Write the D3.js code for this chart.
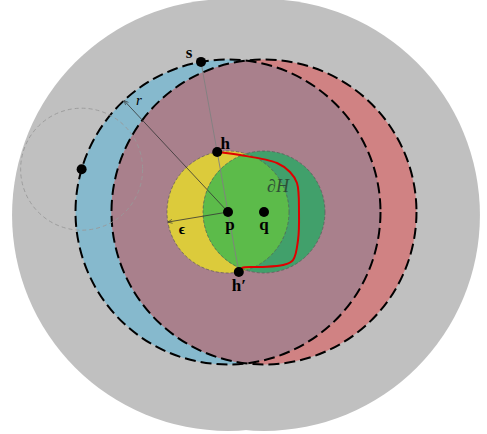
<!DOCTYPE html>
<html>
<head>
<meta charset="utf-8">
<script src="https://cdn.jsdelivr.net/npm/d3@7"></script>
<style>
  html, body { margin: 0; padding: 0; background: #ffffff; }
  svg { display: block; }
  text { font-family: "Liberation Serif", "DejaVu Serif", serif; }
</style>
</head>
<body>
<div id="chart"></div>
<script>
// Geometry in units of epsilon (the radius of the small disks around p and q).
const centerNames = ["p", "q"];
const centerX = [0, 0.59];
const centerY = [0, 0];
const epsilon = 1.0;          // small disk radius
const bigRadius = 2.5;        // radius r + epsilon of the dashed disks
const probeRadius = 1.0;      // radius of the probing circle on the boundary
const haloRadius = 3.54;      // outer grey region around both dashed disks
const haloShiftY = -0.05;

// Directions (degrees) of the construction lines from p
const sAngle = 100.2;         // ray p -> s, also fixes h and h'
const probeAngle = 163.7;     // centre of the probing circle
const rArrowAngle = 133;
const epsArrowAngle = 189.5;

// Boundary curve dH from h to h'
const boundaryX = [-0.18, 0.197, 0.803, 1.016, 1.131, 1.164, 1.148, 1.066, 0.902, 0.525, 0.23, 0.18];
const boundaryY = [0.984, 0.934, 0.803, 0.656, 0.475, -0.016, -0.459, -0.787, -0.869, -0.902, -0.918, -0.984];

const W = 487, H = 434;
const x = d3.scaleLinear().domain([0, 1]).range([228, 289]);
const y = d3.scaleLinear().domain([0, 1]).range([212, 151]);
const k = x(1) - x(0);

const svg = d3.select("#chart").append("svg").attr("width", W).attr("height", H);
const defs = svg.append("defs");

const polar = (cx, cy, rad, deg) => [cx + rad * Math.cos(deg * Math.PI / 180), cy + rad * Math.sin(deg * Math.PI / 180)];

const P = [centerX[0], centerY[0]];
const Q = [centerX[1], centerY[1]];
const S = polar(P[0], P[1], bigRadius, sAngle);
const Hp = polar(P[0], P[1], epsilon, sAngle);
const Hq = polar(P[0], P[1], -epsilon, sAngle);
const probe = polar(P[0], P[1], bigRadius, probeAngle);
const rTip = polar(P[0], P[1], bigRadius, rArrowAngle);
const eTip = polar(P[0], P[1], epsilon, epsArrowAngle);

// Clip paths for the overlaps
defs.append("clipPath").attr("id", "clipBigQ")
  .append("circle").attr("cx", x(Q[0])).attr("cy", y(Q[1])).attr("r", bigRadius * k);
defs.append("clipPath").attr("id", "clipSmallQ")
  .append("circle").attr("cx", x(Q[0])).attr("cy", y(Q[1])).attr("r", epsilon * k);

// Arrow marker
defs.append("marker").attr("id", "arrow")
  .attr("viewBox", "0 0 10 10").attr("refX", 9).attr("refY", 5)
  .attr("markerWidth", 7).attr("markerHeight", 7).attr("orient", "auto")
  .append("path").attr("d", "M1,1.5 L9,5 L1,8.5").attr("fill", "none")
  .attr("stroke", "#333").attr("stroke-width", 1.1);

// Outer grey region
svg.append("g").selectAll("circle").data(centerNames).join("circle")
  .attr("cx", (d, i) => x(centerX[i]))
  .attr("cy", (d, i) => y(centerY[i] + haloShiftY))
  .attr("r", haloRadius * k)
  .attr("fill", "#c0c0c0");

// Dashed disks of radius r + epsilon
const bigColors = ["#86b9cd", "#d08283"];
svg.append("g").selectAll("circle").data(centerNames).join("circle")
  .attr("cx", (d, i) => x(centerX[i])).attr("cy", (d, i) => y(centerY[i]))
  .attr("r", bigRadius * k)
  .attr("fill", (d, i) => bigColors[i]);
svg.append("circle").attr("cx", x(P[0])).attr("cy", y(P[1])).attr("r", bigRadius * k)
  .attr("clip-path", "url(#clipBigQ)").attr("fill", "#a9808c");

// Small disks of radius epsilon
const smallColors = ["#dccb3b", "#41a06b"];
svg.append("g").selectAll("circle").data(centerNames).join("circle")
  .attr("cx", (d, i) => x(centerX[i])).attr("cy", (d, i) => y(centerY[i]))
  .attr("r", epsilon * k)
  .attr("fill", (d, i) => smallColors[i]);
svg.append("circle").attr("cx", x(P[0])).attr("cy", y(P[1])).attr("r", epsilon * k)
  .attr("clip-path", "url(#clipSmallQ)").attr("fill", "#5cbb4a");

// Outlines
svg.append("g").selectAll("circle").data(centerNames).join("circle")
  .attr("cx", (d, i) => x(centerX[i])).attr("cy", (d, i) => y(centerY[i]))
  .attr("r", epsilon * k)
  .attr("fill", "none").attr("stroke", "#555").attr("stroke-width", 0.8)
  .attr("stroke-dasharray", "3,2").attr("opacity", 0.8);
svg.append("g").selectAll("circle").data(centerNames).join("circle")
  .attr("cx", (d, i) => x(centerX[i])).attr("cy", (d, i) => y(centerY[i]))
  .attr("r", bigRadius * k)
  .attr("fill", "none").attr("stroke", "#000").attr("stroke-width", 2)
  .attr("stroke-dasharray", "11,5");

// Probing circle
svg.append("circle").attr("cx", x(probe[0])).attr("cy", y(probe[1])).attr("r", probeRadius * k)
  .attr("fill", "none").attr("stroke", "#999").attr("stroke-width", 0.9)
  .attr("stroke-dasharray", "4,3");

// Line s - h - p - h'
svg.append("line")
  .attr("x1", x(S[0])).attr("y1", y(S[1])).attr("x2", x(Hq[0])).attr("y2", y(Hq[1]))
  .attr("stroke", "#808080").attr("stroke-width", 0.9);

// Radius arrows
svg.append("line")
  .attr("x1", x(P[0])).attr("y1", y(P[1])).attr("x2", x(rTip[0])).attr("y2", y(rTip[1]))
  .attr("stroke", "#333").attr("stroke-width", 0.8).attr("marker-end", "url(#arrow)");
svg.append("line")
  .attr("x1", x(P[0])).attr("y1", y(P[1])).attr("x2", x(eTip[0])).attr("y2", y(eTip[1]))
  .attr("stroke", "#333").attr("stroke-width", 0.8).attr("marker-end", "url(#arrow)");

// Boundary curve dH
const boundary = boundaryX.map((v, i) => [v, boundaryY[i]]);
svg.append("path").datum(boundary)
  .attr("d", d3.line().x(d => x(d[0])).y(d => y(d[1])).curve(d3.curveCatmullRom.alpha(0.5)))
  .attr("fill", "none").attr("stroke", "#e00000").attr("stroke-width", 2);

// Points
const pts = [P, Q, S, Hp, Hq, probe];
svg.append("g").selectAll("circle").data(pts).join("circle")
  .attr("cx", d => x(d[0])).attr("cy", d => y(d[1])).attr("r", 5)
  .attr("fill", "#000");

// Labels
const label = (pt, dx, dy, txt, opts = {}) => svg.append("text")
  .attr("x", x(pt[0]) + dx).attr("y", y(pt[1]) + dy)
  .attr("text-anchor", "middle")
  .attr("font-size", opts.size || 17)
  .attr("font-weight", opts.italic ? "normal" : "bold")
  .attr("font-style", opts.italic ? "italic" : "normal")
  .attr("fill", opts.color || "#000")
  .text(txt);

label(S, -12, -4, "s");
label(Hp, 8, -3, "h");
label(Hq, 0, 19, "h\u2032");
label(P, 2, 18, "p");
label(Q, 0, 18, "q");
label([0.82, 0.33], 0, 0, "\u2202H", { italic: true, size: 18, color: "#2d4f36" });
label(rTip, 15, 5, "r", { italic: true, size: 15 });
label(eTip, 14, 12, "\u03f5", { italic: false, size: 15 });
</script>
</body>
</html>
